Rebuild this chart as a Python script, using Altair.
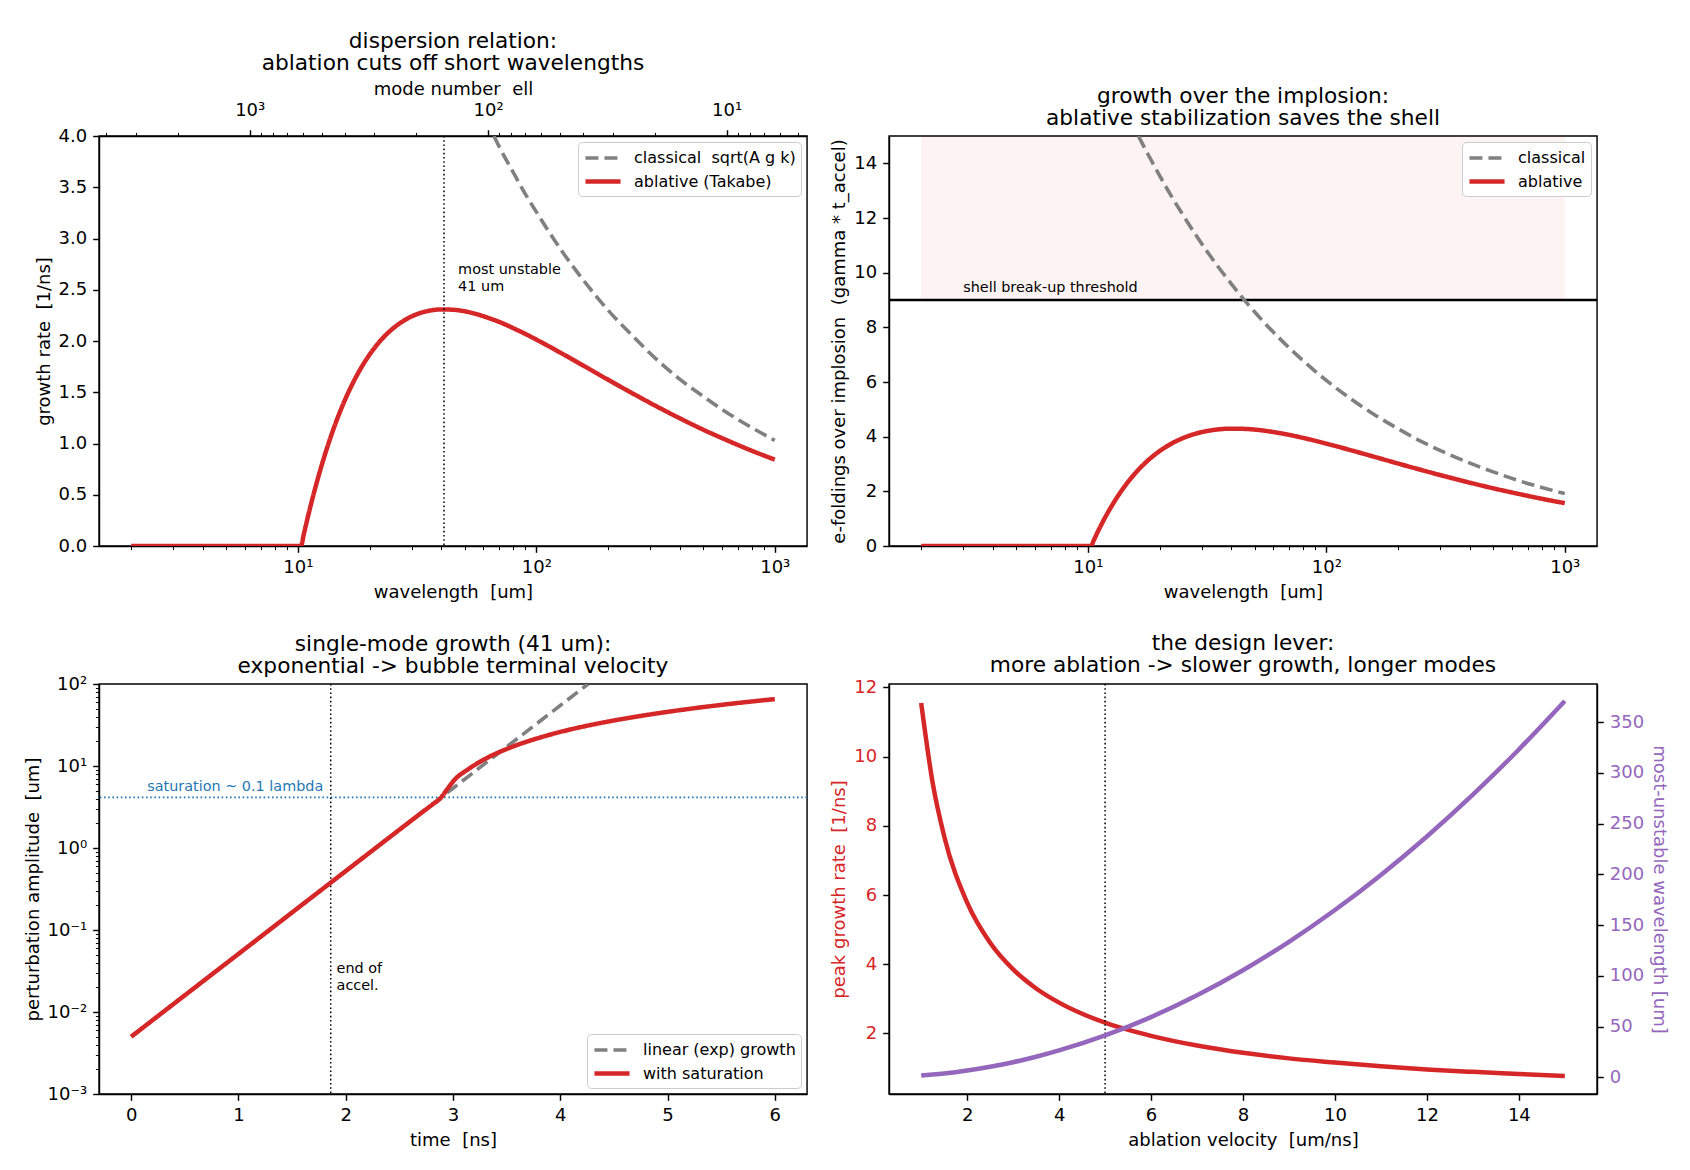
import altair as alt
import pandas as pd

FONT = "DejaVu Sans"
RED, GRAY, PURPLE, BLUE = "#d62728", "#808080", "#9467bd", "#1f77b4"
NB = "\u00a0"

# ---------------- data ----------------
# panel 1: dispersion relation (growth rate [1/ns] vs wavelength [um])
wl_abl = [2, 5, 10, 10.3, 10.6, 11, 11.5, 12.6, 14, 15.8, 17.8, 20, 22.4, 25.1,
          28.2, 31.6, 35.5, 39.8, 44.7, 50.1, 56.2, 63.1, 70.8, 79.4, 89.1, 100,
          126, 158, 200, 251, 316, 398, 501, 631, 794, 1000]
gr_abl = [0, 0, 0, 0, 0.118, 0.278, 0.458, 0.791, 1.120, 1.431, 1.677, 1.868,
          2.013, 2.124, 2.207, 2.262, 2.295, 2.308, 2.305, 2.290, 2.262, 2.224,
          2.181, 2.129, 2.074, 2.014, 1.887, 1.758, 1.622, 1.494, 1.368, 1.248,
          1.135, 1.031, 0.933, 0.843]
wl_cls = [66.4, 70.8, 79.4, 89.1, 100, 126, 158, 200, 251, 316, 398, 501, 631,
          794, 1000]
gr_cls = [4.00, 3.87, 3.66, 3.45, 3.26, 2.90, 2.59, 2.30, 2.06, 1.83, 1.63, 1.46,
          1.30, 1.16, 1.03]
LAMBDA_PEAK = 41
TWO_PI_R = 6283.2          # mode number ell = 2*pi*R / lambda

# panel 2: e-foldings over the implosion
ef_abl = [0, 0, 0, 0, 0.219, 0.517, 0.852, 1.471, 2.083, 2.662, 3.119, 3.474,
          3.744, 3.951, 4.105, 4.207, 4.269, 4.293, 4.287, 4.259, 4.207, 4.137,
          4.057, 3.960, 3.858, 3.746, 3.510, 3.270, 3.017, 2.779, 2.544, 2.321,
          2.111, 1.918, 1.735, 1.568]
wl_cls2 = [16.3, 17.8, 20, 22.4, 25.1, 28.2, 31.6, 35.5, 39.8, 44.7, 50.1, 56.2,
           63.1, 70.8, 79.4, 89.1, 100, 126, 158, 200, 251, 316, 398, 501, 631,
           794, 1000]
ef_cls = [15.0, 14.36, 13.55, 12.80, 12.10, 11.41, 10.78, 10.17, 9.61, 9.06, 8.56,
          8.08, 7.63, 7.20, 6.80, 6.42, 6.06, 5.40, 4.82, 4.29, 3.82, 3.41, 3.04,
          2.71, 2.41, 2.15, 1.92]
THRESH = 9
EF_TOP = 15
BAND_WL = [2, 1000]

# panel 3: single-mode growth
t_lin = [0, 1, 2, 2.5, 2.89, 3, 4, 4.26]
a_lin = [0.005, 0.0511, 0.523, 1.67, 4.14, 5.35, 54.7, 100]
t_sat = [0, 1, 2, 2.5, 2.7, 2.8, 2.89, 2.95, 3.015, 3.14, 3.325, 3.54, 3.85,
         4.16, 4.47, 4.79, 5.10, 5.5, 6.0]
a_sat = [0.005, 0.0511, 0.523, 1.67, 2.65, 3.33, 4.14, 5.3, 6.8, 9.1, 12.7, 16.9,
         23.0, 29.2, 35.3, 41.6, 47.7, 55.6, 65.5]
T_ACCEL = 1.86
A_SAT = 4.14

# panel 4: design lever
va = [1, 1.25, 1.5, 2, 2.5, 3, 3.5, 4, 5, 6, 7, 8, 9, 10, 11, 12, 13, 14, 15]
gmax = [11.55, 9.24, 7.70, 5.78, 4.62, 3.85, 3.30, 2.89, 2.31, 1.93, 1.65,
        1.44, 1.28, 1.16, 1.05, 0.96, 0.89, 0.83, 0.77]
lmax = [1.65, 2.6, 3.7, 6.6, 10.3, 14.8, 20.2, 26.4, 41.2, 59.3, 80.8,
        105.5, 133.5, 164.8, 199.4, 237.3, 278.5, 323, 370.8]
VA_REF = 5

# tick labels
SUP = {0.001: "10⁻³", 0.01: "10⁻²", 0.1: "10⁻¹", 1: "10⁰", 10: "10¹",
       100: "10²", 1000: "10³"}
WL_DOM = [1.466, 1365]
ELL_DOM = [4.603, 4286]
wl_ticks = [m * 10 ** e for e in range(0, 4) for m in range(1, 10)
            if WL_DOM[0] <= m * 10 ** e <= WL_DOM[1]]
ell_ticks = [m * 10 ** e for e in range(0, 4) for m in range(1, 10)
             if ELL_DOM[0] <= m * 10 ** e <= ELL_DOM[1]]
amp_ticks = [round(m * 10.0 ** e, 6) for e in range(-3, 2) for m in range(1, 10)] + [100]

W, H = 708, 410


def label_expr(decades):
    expr = "''"
    for v in decades:
        expr = f"datum.value == {v} ? '{SUP[v]}' : ({expr})"
    return expr


def log_axis(title, values, decades, orient, **kw):
    dec = ",".join(str(v) for v in decades)
    test = f"indexof([{dec}], datum.value) >= 0"
    return alt.Axis(title=title, orient=orient, values=values,
                    labelExpr=label_expr(decades),
                    tickSize={"condition": {"test": test, "value": 6.3}, "value": 3.6},
                    tickWidth={"condition": {"test": test, "value": 1.44}, "value": 1.0},
                    **kw)


def legend(orient):
    return alt.Legend(title=None, orient=orient, offset=6,
                      fillColor="rgba(255,255,255,0.85)", strokeColor="#cccccc",
                      cornerRadius=4, padding=5, labelFont=FONT, labelFontSize=16,
                      labelColor="black", labelLimit=0,
                      symbolType="M-1.95,0H1.95", symbolSize=324,
                      symbolStrokeWidth=4, symbolOffset=8.5, rowPadding=4,
                      labelOffset=19.5)


def series_lines(df, xenc, yenc, domain, colors, dashes, widths, orient):
    return alt.Chart(df).mark_line(interpolate="monotone", clip=True).encode(
        x=xenc, y=yenc,
        color=alt.Color("s:N", scale=alt.Scale(domain=domain, range=colors),
                        legend=legend(orient)),
        strokeDash=alt.StrokeDash("s:N", scale=alt.Scale(domain=domain, range=dashes),
                                  legend=legend(orient)),
        strokeWidth=alt.StrokeWidth("s:N", scale=alt.Scale(domain=domain, range=widths),
                                    legend=None),
    )


def title(lines, offset=6):
    return alt.TitleParams(text=lines, font=FONT, fontSize=21.7, fontWeight="normal",
                           color="black", anchor="middle", offset=offset, lineHeight=22)


DOT = [1.6, 2.6]
DASH = [13, 6]

# ---------------- panel 1 ----------------
CL1, AB1 = f"classical{NB} sqrt(A g k)", "ablative (Takabe)"
df1 = pd.concat([
    pd.DataFrame({"wl": wl_cls, "v": gr_cls, "s": CL1}),
    pd.DataFrame({"wl": wl_abl, "v": gr_abl, "s": AB1}),
])
wl_scale = alt.Scale(type="log", domain=WL_DOM, nice=False)
x_wl = alt.X("wl:Q", scale=wl_scale,
             axis=log_axis(f"wavelength{NB} [um]", wl_ticks, [10, 100, 1000], "bottom"))
y1 = alt.Y("v:Q", scale=alt.Scale(domain=[0, 4], nice=False, zero=False),
           axis=alt.Axis(title=f"growth rate{NB} [1/ns]", values=[i * 0.5 for i in range(9)],
                         format=".1f"))
lines1 = series_lines(df1, x_wl, y1, [CL1, AB1], [GRAY, RED], [DASH, [1, 0]], [3.6, 4.5],
                      "top-right")
vline1 = alt.Chart(pd.DataFrame({"wl": [LAMBDA_PEAK]})).mark_rule(
    color="black", strokeDash=DOT, strokeWidth=1.5).encode(x=x_wl)
text1 = alt.Chart(pd.DataFrame({"wl": [47], "v": [2.76],
                                "t": [f"most unstable\n{LAMBDA_PEAK} um"]})).mark_text(
    align="left", baseline="top", lineBreak="\n", font=FONT, fontSize=14.4,
    lineHeight=17, color="black").encode(x=x_wl, y=y1, text="t:N")
top1 = alt.Chart(pd.DataFrame({"wl": wl_abl})).transform_calculate(
    ell=f"{TWO_PI_R} / datum.wl").mark_point(opacity=0).encode(
    x=alt.X("ell:Q", scale=alt.Scale(type="log", domain=ELL_DOM, reverse=True, nice=False),
            axis=log_axis(f"mode number{NB} ell", ell_ticks, [10, 100, 1000], "top",
                          labelPadding=10, titlePadding=3)))
p1 = alt.layer(alt.layer(lines1, vline1, text1), top1).resolve_scale(
    x="independent").properties(width=W, height=H,
                                title=title(["dispersion relation:",
                                             "ablation cuts off short wavelengths"]))

# ---------------- panel 2 ----------------
CL2, AB2 = "classical", "ablative"
df2 = pd.concat([
    pd.DataFrame({"wl": wl_cls2, "v": ef_cls, "s": CL2}),
    pd.DataFrame({"wl": wl_abl, "v": ef_abl, "s": AB2}),
])
y2s = alt.Scale(domain=[0, EF_TOP], nice=False, zero=False)
y2ax = alt.Axis(title=f"e-foldings over implosion{NB} (gamma * t_accel)",
                values=list(range(0, 15, 2)))
y2 = alt.Y("v:Q", scale=y2s, axis=y2ax)
band2 = alt.Chart(pd.DataFrame({"wl": [BAND_WL[0]], "wl2": [BAND_WL[1]],
                                "v": [THRESH], "v2": [EF_TOP]})).mark_rect(
    color=RED, opacity=0.055).encode(x=x_wl, x2="wl2:Q", y=y2, y2="v2:Q")
thr2 = alt.Chart(pd.DataFrame({"v": [THRESH]})).mark_rule(
    color="black", strokeWidth=2.6).encode(y=y2)
lines2 = series_lines(df2, x_wl, y2, [CL2, AB2], [GRAY, RED], [DASH, [1, 0]], [3.6, 4.5],
                      "top-right")
text2 = alt.Chart(pd.DataFrame({"wl": [3], "v": [9.3],
                                "t": ["shell break-up threshold"]})).mark_text(
    align="left", baseline="alphabetic", font=FONT, fontSize=14.4, color="black").encode(
    x=x_wl, y=y2, text="t:N")
p2 = alt.layer(band2, thr2, lines2, text2).properties(
    width=W, height=H,
    title=title(["growth over the implosion:", "ablative stabilization saves the shell"]))

# ---------------- panel 3 ----------------
LN3, SA3 = "linear (exp) growth", "with saturation"
df3 = pd.concat([
    pd.DataFrame({"t": t_lin, "v": a_lin, "s": LN3}),
    pd.DataFrame({"t": t_sat, "v": a_sat, "s": SA3}),
])
x3 = alt.X("t:Q", scale=alt.Scale(domain=[-0.3, 6.3], nice=False, zero=False),
           axis=alt.Axis(title=f"time{NB} [ns]", values=list(range(7)), format="d"))
y3 = alt.Y("v:Q", scale=alt.Scale(type="log", domain=[0.001, 100], nice=False),
           axis=log_axis(f"perturbation amplitude{NB} [um]", amp_ticks,
                         [0.001, 0.01, 0.1, 1, 10, 100], "left"))
sat3 = alt.Chart(pd.DataFrame({"v": [A_SAT]})).mark_rule(
    color=BLUE, strokeDash=DOT, strokeWidth=1.6).encode(y=y3)
vline3 = alt.Chart(pd.DataFrame({"t": [T_ACCEL]})).mark_rule(
    color="black", strokeDash=DOT, strokeWidth=1.5).encode(x=x3)
lines3 = series_lines(df3, x3, y3, [LN3, SA3], [GRAY, RED], [DASH, [1, 0]], [3.6, 4.5],
                      "bottom-right")
tsat3 = alt.Chart(pd.DataFrame({"t": [0.15], "v": [4.95],
                                "txt": ["saturation ~ 0.1 lambda"]})).mark_text(
    align="left", baseline="alphabetic", font=FONT, fontSize=14.4, color=BLUE).encode(
    x=x3, y=y3, text="txt:N")
tacc3 = alt.Chart(pd.DataFrame({"t": [1.915], "v": [0.041],
                                "txt": ["end of\naccel."]})).mark_text(
    align="left", baseline="top", lineBreak="\n", font=FONT, fontSize=14.4,
    lineHeight=17, color="black").encode(x=x3, y=y3, text="txt:N")
p3 = alt.layer(sat3, vline3, lines3, tsat3, tacc3).properties(
    width=W, height=H,
    title=title(["single-mode growth (41 um):", "exponential -> bubble terminal velocity"],
                offset=-2.5))

# ---------------- panel 4 ----------------
df4 = pd.DataFrame({"va": va, "g": gmax, "l": lmax})
x4 = alt.X("va:Q", scale=alt.Scale(domain=[0.3, 15.7], nice=False, zero=False),
           axis=alt.Axis(title=f"ablation velocity{NB} [um/ns]", values=list(range(2, 15, 2)),
                         format="d"))
y4l = alt.Y("g:Q", scale=alt.Scale(domain=[0.25, 12.1], nice=False, zero=False),
            axis=alt.Axis(title=f"peak growth rate{NB} [1/ns]", values=list(range(2, 13, 2)),
                          labelColor=RED, titleColor=RED, orient="left"))
y4r = alt.Y("l:Q", scale=alt.Scale(domain=[-16.5, 387.5], nice=False, zero=False),
            axis=alt.Axis(title="most-unstable wavelength [um]", values=list(range(0, 351, 50)),
                          labelColor=PURPLE, titleColor=PURPLE, orient="right",
                          titlePadding=6))
red4 = alt.Chart(df4).mark_line(color=RED, strokeWidth=4.5, interpolate="monotone").encode(
    x=x4, y=y4l)
vline4 = alt.Chart(pd.DataFrame({"va": [VA_REF]})).mark_rule(
    color="black", strokeDash=DOT, strokeWidth=1.5).encode(x=x4)
pur4 = alt.Chart(df4).mark_line(color=PURPLE, strokeWidth=4.5, interpolate="monotone").encode(
    x=x4, y=y4r)
p4 = alt.layer(alt.layer(red4, vline4), pur4).resolve_scale(y="independent").properties(
    width=W, height=H,
    title=title(["the design lever:", "more ablation -> slower growth, longer modes"],
                offset=1.7))

chart = alt.concat(p1, p2, p3, p4, columns=2, spacing={"row": 138, "column": 82},
                   bounds="flush").resolve_scale(
    color="independent", strokeDash="independent", strokeWidth="independent"
).properties(
    padding={"left": 15, "top": 22, "right": 10, "bottom": 10}
).configure_view(stroke="black", strokeWidth=1.44).configure_axis(
    grid=False, domainColor="black", domainWidth=1.44, tickColor="black",
    tickWidth=1.44, tickSize=6.3, labelFont=FONT, labelFontSize=18, labelColor="black",
    titleFont=FONT, titleFontSize=18, titleFontWeight="normal", titleColor="black",
    labelFlush=False, labelOverlap=False
).configure_axisX(labelPadding=6, titlePadding=7).configure_axisY(
    labelPadding=6, titlePadding=5
).configure_title(font=FONT, fontWeight="normal", color="black")

chart.save("out.html", embed_options={"renderer": "svg", "actions": False})
